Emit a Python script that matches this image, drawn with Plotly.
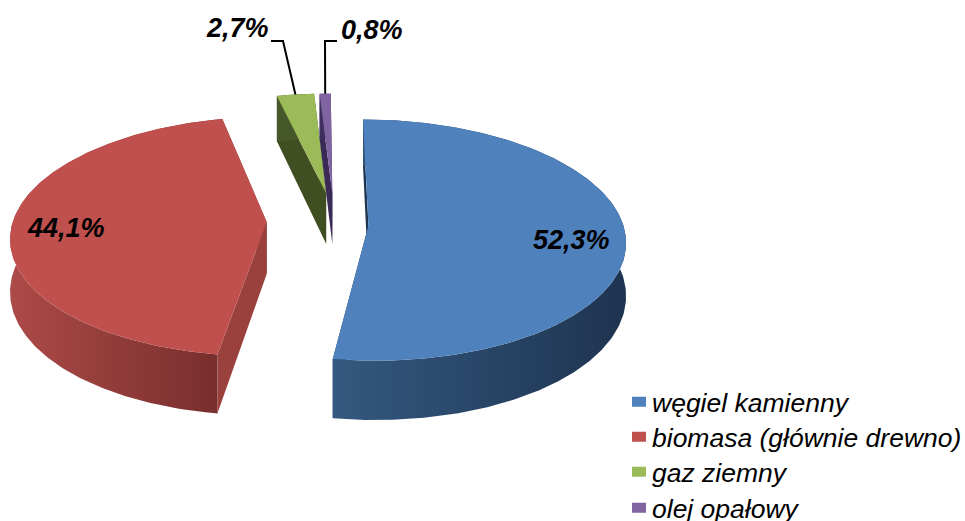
import numpy as np
import plotly.graph_objects as go

CATEGORIES = ["węgiel kamienny", "biomasa (głównie drewno)", "gaz ziemny", "olej opałowy"]
VALUES = [52.3, 44.1, 2.7, 0.8]
LABELS = ["52,3%", "44,1%", "2,7%", "0,8%"]

TOP = ["#4F81BD", "#C0504D", "#9BBB59", "#8064A2"]
RADIAL = ["#1F3552", "#9A403D", "#3F4F22", "#3A2A55"]
WALL_LEFT = ["#34587F", "#AC4A48", "#46582A", "#3F2F5E"]
WALL_RIGHT = ["#1E3450", "#772E2C", "#46582A", "#3F2F5E"]
# how far each slice is pulled away from the pie centre (x, depth), in radii
PULL = [(0.2, 0.03), (-0.2, 0.0), (0.035, -0.25), (0.06, -0.25)]
LABEL_POS = [(571, 240), (66, 228), (237, 28), (372, 30)]
LEGEND_TOPS = [378, 413, 448, 484]

CX, CY, A, B, K, H = 317.5, 222, 254, 118, 0.12, 52
FONT = "Liberation Sans"


def project(u, v, down=0.0):
    w = 1 / (1 - K * v)
    return CX + A * u * w, CY + B * v * w + down * H * w


total = sum(VALUES)
fracs = np.array(VALUES) / total
starts = np.concatenate([[0], np.cumsum(fracs)[:-1]]) * 2 * np.pi
ends = np.cumsum(fracs) * 2 * np.pi


def poly(fig, xs, ys, color=None, grad=None):
    kw = dict(fillgradient=dict(type="horizontal", colorscale=[[0, grad[0]], [1, grad[1]]])) if grad else dict(fillcolor=color)
    fig.add_trace(go.Scatter(x=list(xs), y=list(ys), mode="lines", fill="toself", line=dict(width=0),
                             showlegend=False, hoverinfo="skip", **kw))


fig = go.Figure()
for i in [2, 3, 1, 0]:
    pu, pv = PULL[i]
    th = np.linspace(starts[i], ends[i], 240)
    u, v = np.sin(th) + pu, -np.cos(th) + pv
    ax, ay = project(pu, pv)
    ax2, ay2 = project(pu, pv, 1)
    tx, ty = project(u, v)
    bx, by = project(u, v, 1)
    # radial faces
    for k in (0, -1):
        poly(fig, [ax, tx[k], bx[k], ax2], [ay, ty[k], by[k], ay2], RADIAL[i])
    # outer wall
    poly(fig, np.r_[tx, bx[::-1]], np.r_[ty, by[::-1]], grad=(WALL_LEFT[i], WALL_RIGHT[i]))
    # top face
    poly(fig, np.r_[ax, tx], np.r_[ay, ty], TOP[i])

# leader lines end on the outer edge of the two small slices
for i, (x0, xm, ym) in {2: (271, 283, 41), 3: (337, 325, 41)}.items():
    pu, pv = PULL[i]
    mid = (starts[i] + ends[i]) / 2
    ex, ey = project(np.sin(mid) + pu, -np.cos(mid) + pv)
    fig.add_trace(go.Scatter(x=[x0, xm, ex], y=[ym, ym, ey], mode="lines", line=dict(color="black", width=2),
                             showlegend=False, hoverinfo="skip"))

legend_layout = {}
for i, name in enumerate(CATEGORIES):
    key = "legend" if i == 0 else f"legend{i + 1}"
    # the dash leaves a gap first, so the square key sits right next to its text
    fig.add_trace(go.Scatter(x=[None], y=[None], mode="lines", name=name, legend=key,
                             line=dict(color=TOP[i], width=14, dash="0px,15px,14px,100px")))
    legend_layout[key] = dict(x=612 / 965, y=1 - LEGEND_TOPS[i] / 521, xanchor="left", yanchor="top",
                              bgcolor="rgba(0,0,0,0)", itemsizing="trace",
                              font=dict(family=FONT, size=26.5, color="black", style="italic"))

for text, (x, y) in zip(LABELS, LABEL_POS):
    fig.add_annotation(x=x, y=y, text=text, showarrow=False, xref="x", yref="y",
                       font=dict(family=FONT, size=27, color="black", weight="bold", style="italic"))

fig.update_layout(
    width=965, height=521,
    margin=dict(l=0, r=0, t=0, b=0, autoexpand=False),
    paper_bgcolor="white", plot_bgcolor="white",
    xaxis=dict(range=[0, 965], visible=False, fixedrange=True),
    yaxis=dict(range=[521, 0], visible=False, fixedrange=True),
    **legend_layout,
)
fig.write_html("out.html", config=dict(displayModeBar=False),
               post_script="document.body.style.margin='0';document.documentElement.style.overflow='hidden';")
